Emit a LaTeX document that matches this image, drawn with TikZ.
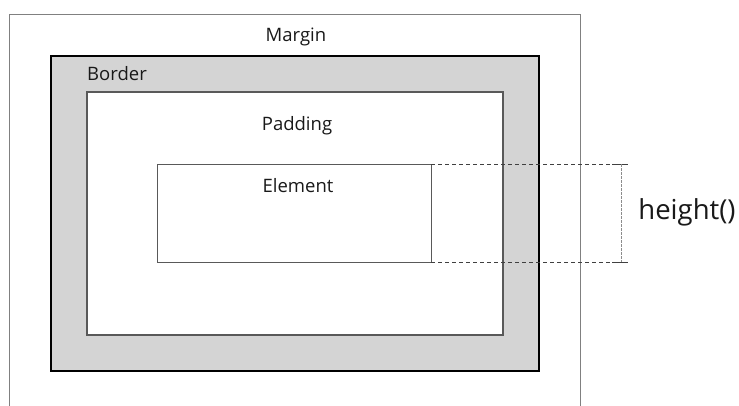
\documentclass[tikz,border=0pt]{standalone}
\usepackage{fontspec}
\setmainfont{Open Sans}
\begin{document}
\begin{tikzpicture}[x=1pt,y=-1pt,
  lbl/.style={font=\fontsize{18.5}{22}\selectfont, text=black!90, inner sep=0pt},
  big/.style={font=\fontsize{27.5}{32}\selectfont, text=black!90, inner sep=0pt},
  marginbox/.style={draw=black!50, line width=1pt},
  borderbox/.style={draw=black, fill=black!17, line width=1.5pt},
  paddingbox/.style={draw=black!65, fill=white, line width=1.5pt},
  elembox/.style={draw=black!65, fill=white, line width=1pt},
  dim/.style={draw=black!75, dash pattern=on 4pt off 3pt, line width=0.9pt},
  dimv/.style={draw=black!45, dash pattern=on 3pt off 1pt, line width=0.8pt},
  tick/.style={draw=black!75, line width=0.9pt}]
\useasboundingbox (0,0) rectangle (739,405);
\fill[white] (0,0) rectangle (739,405);
\draw[marginbox] (9,14) -- (580,14) -- (580,410) (9,14) -- (9,410);
\draw[borderbox] (51,56) rectangle (539,371);
\draw[paddingbox] (87,92) rectangle (503,335);
\draw[elembox] (157,164) rectangle (431,262);
\coordinate (et) at (431,164);
\coordinate (eb) at (431,262);
\coordinate (dt) at (612,164);
\coordinate (db) at (612,262);
\coordinate (tt) at (628,164);
\coordinate (tb) at (628,262);
\coordinate (vt) at (621,164);
\coordinate (vb) at (621,262);
\draw[dim] (et) -- (dt);
\draw[dim] (eb) -- (db);
\draw[tick] (dt) -- (tt);
\draw[tick] (db) -- (tb);
\draw[dimv] (vt) -- (vb);
\node[lbl] (margin) at (296,37) {Margin};
\node[lbl] (border) at (117,74) {Border};
\node[lbl] (padding) at (297,126) {Padding};
\node[lbl] (element) at (298,186) {Element};
\node[big] (height) at (687,212) {height()};
\end{tikzpicture}
\end{document}
